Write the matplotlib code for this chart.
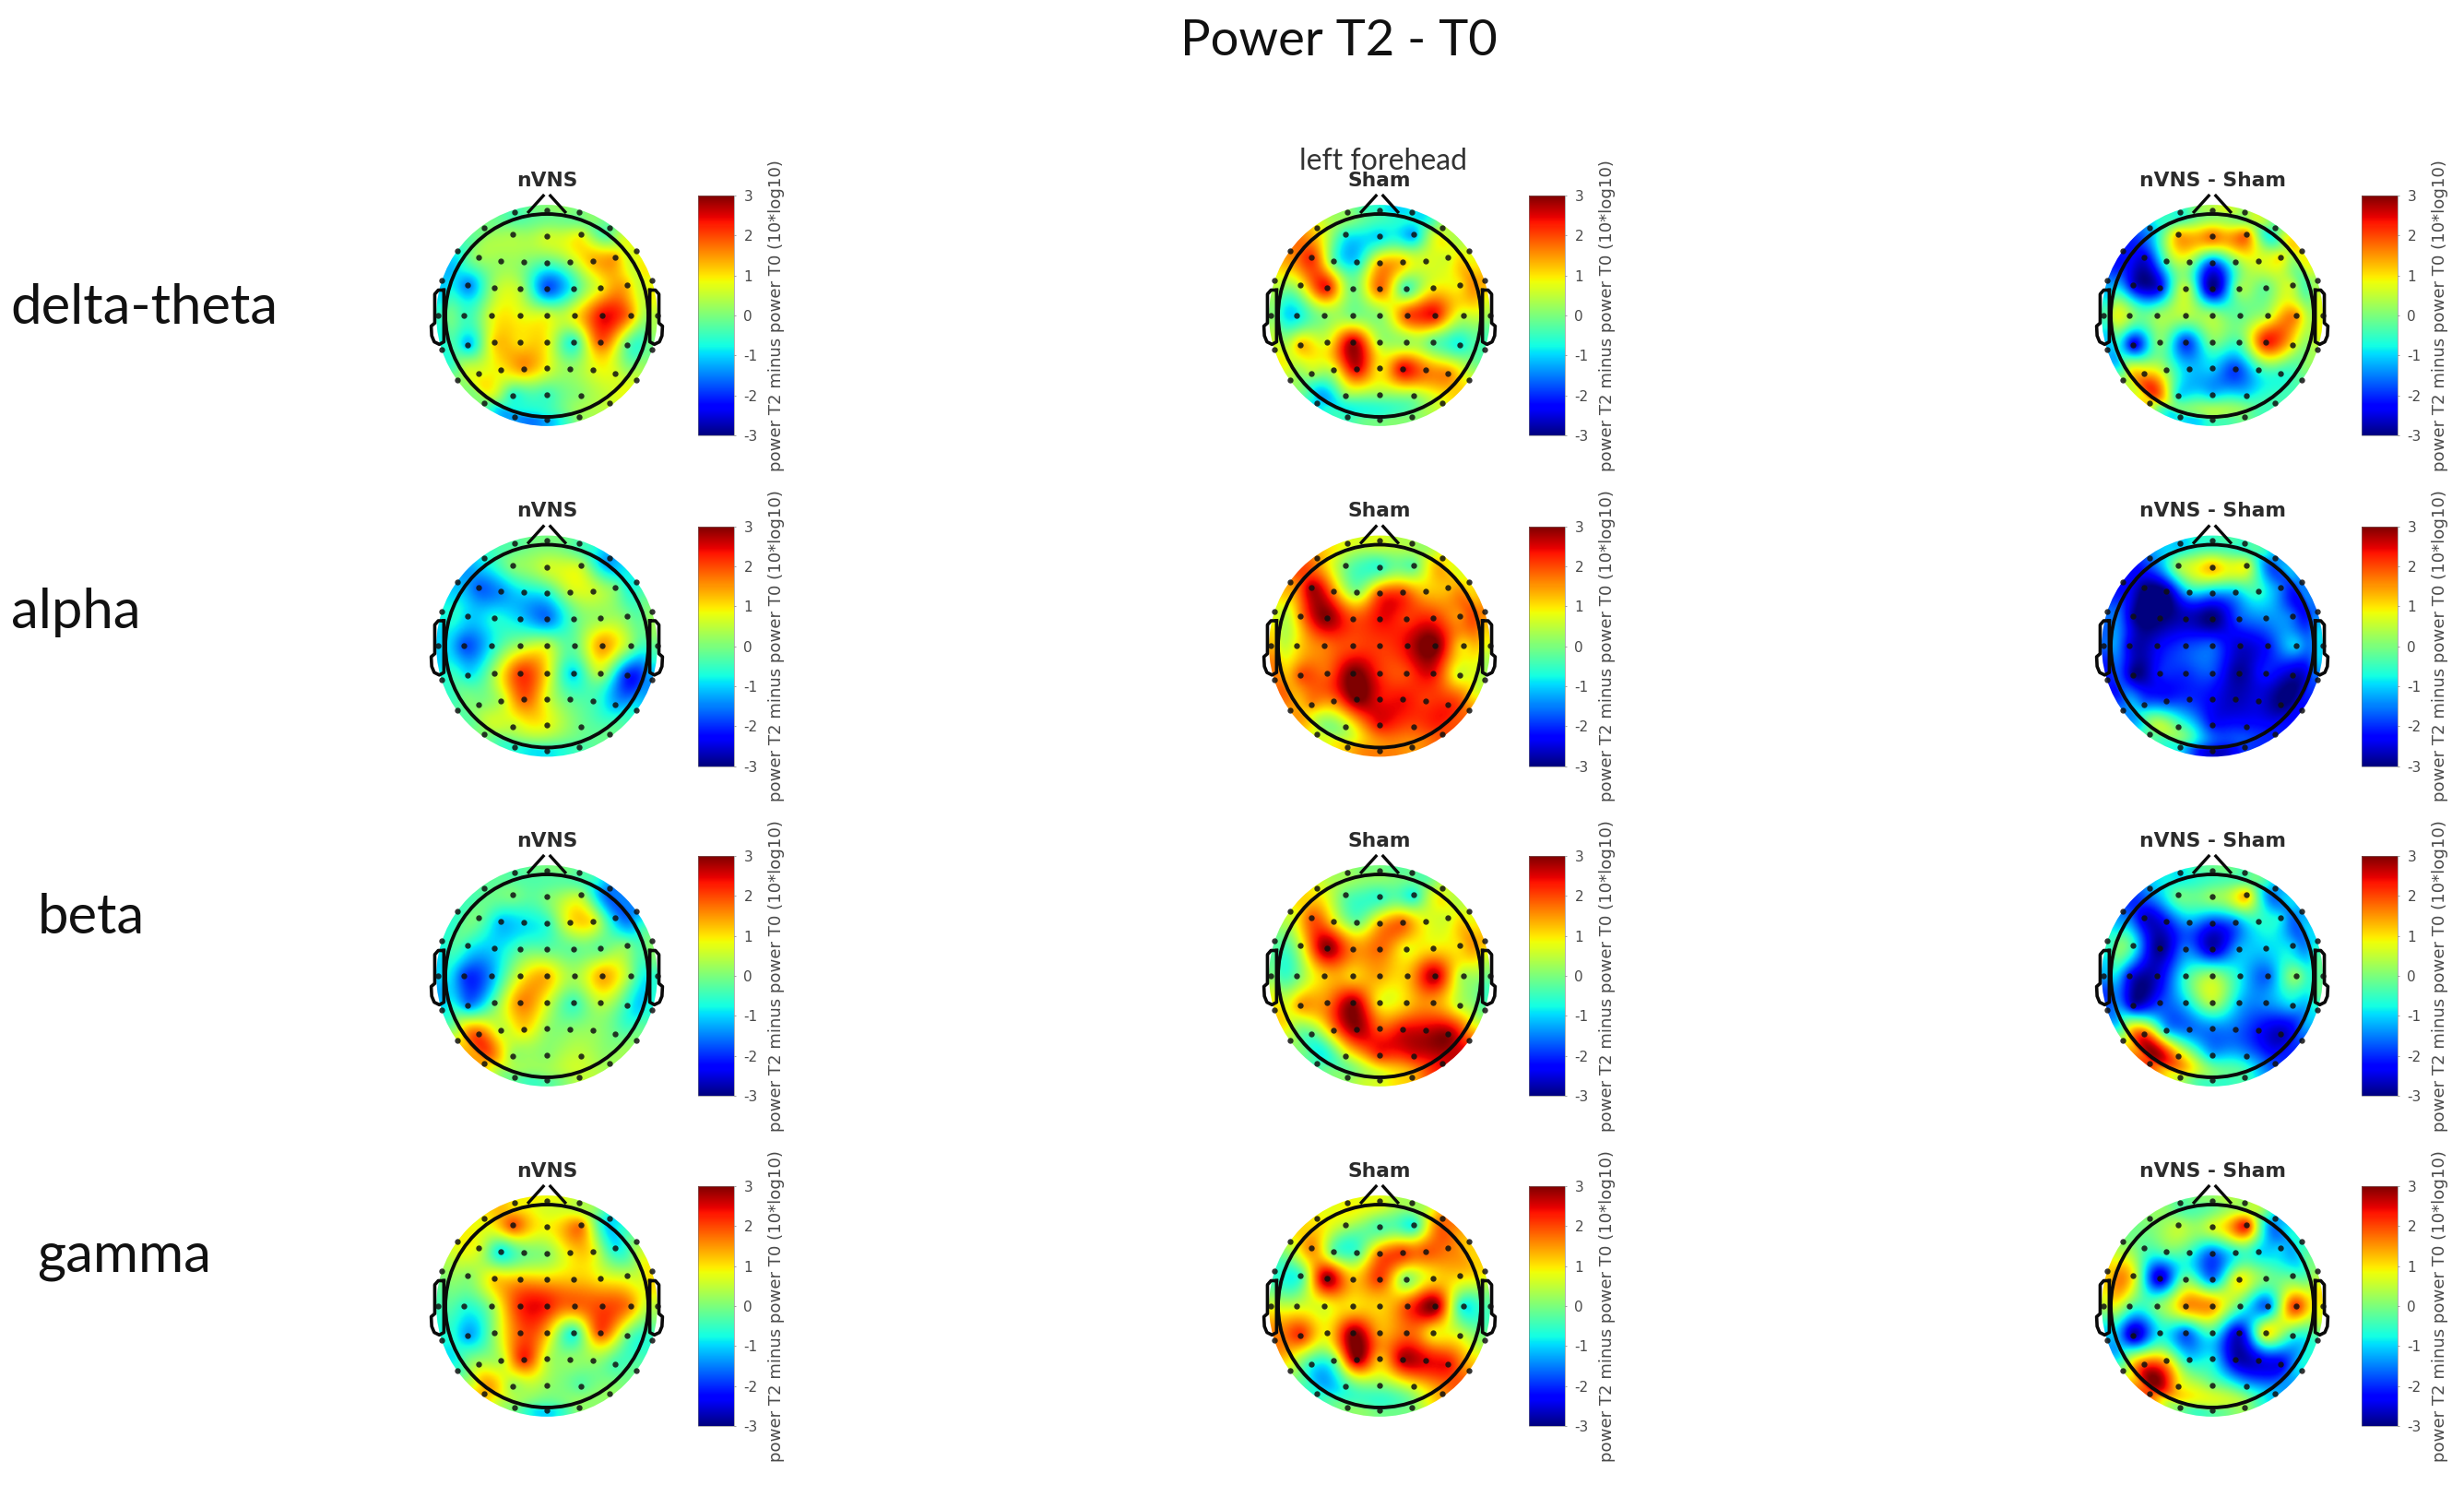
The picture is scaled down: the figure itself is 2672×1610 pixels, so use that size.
import numpy as np
import matplotlib
matplotlib.use("Agg")
import matplotlib.pyplot as plt
from matplotlib.patches import Circle

plt.rcParams["axes.unicode_minus"] = False
W, H = 2672, 1610
FIG_TITLE = "Power T2 - T0"
ANNOT = "left forehead"
BANDS = ["delta-theta", "alpha", "beta", "gamma"]
CONDITIONS = ["nVNS", "Sham", "nVNS - Sham"]
CBAR_LABEL = "power T2 minus power T0 (10*log10)"
CBAR_TICKS = [-3, -2, -1, 0, 1, 2, 3]

# electrode montage in head radii, row by row from the nose to the back
elec_x = [-0.318, 0.0, 0.318,
          -0.621, -0.333, 0.0, 0.333, 0.621,
          -0.879, -0.673, -0.455, -0.227, 0.0, 0.230, 0.455, 0.676, 0.879,
          -1.036, -0.779, -0.521, -0.261, 0.0, 0.261, 0.524, 0.788, 1.039,
          -1.076, -0.818, -0.545, -0.267, 0.0, 0.273, 0.545, 0.824, 1.091,
          -1.036, -0.779, -0.521, -0.261, 0.0, 0.261, 0.524, 0.788, 1.039,
          -0.879, -0.673, -0.455, -0.227, 0.0, 0.230, 0.455, 0.676, 0.879,
          -0.621, -0.333, 0.0, 0.333, 0.621,
          -0.318, 0.0, 0.318]
elec_y = [1.015, 1.039, 1.015,
          0.864, 0.797, 0.779, 0.797, 0.864,
          0.636, 0.576, 0.539, 0.530, 0.521, 0.530, 0.539, 0.576, 0.636,
          0.342, 0.297, 0.276, 0.264, 0.264, 0.264, 0.276, 0.297, 0.342,
          0.0, 0.0, 0.0, 0.0, 0.0, 0.0, 0.0, 0.0, 0.0,
          -0.333, -0.288, -0.264, -0.264, -0.264, -0.264, -0.264, -0.288, -0.333,
          -0.636, -0.576, -0.539, -0.524, -0.521, -0.524, -0.539, -0.576, -0.636,
          -0.864, -0.791, -0.779, -0.791, -0.864,
          -1.0, -1.03, -1.0]

delta_theta_nvns = [-1, -0.3, -1,
    0, 0.3, 0.6, 0.8, -1.6,
    -0.8, 0.2, 0.2, 0.1, -0.3, 0.3, 1.3, 1.4, -0.3,
    -0.5, -1.5, 0.3, 0.4, -1.8, -0.6, 0.8, 1.3, 0.6,
    0, -0.5, 0.7, 0.8, 0.7, 0.9, 2.4, 1.6, 0,
    0, -1.2, 1.1, 1.0, 0.9, -0.7, 1.9, -0.1, 0,
    0.7, 0.7, 0.9, 1.5, 0.8, 0.2, 0.7, 0.7, 0.5,
    0.8, -0.7, -0.5, 0.1, 0.4,
    -0.3, -0.8, 0.8]
delta_theta_sham = [1.0, 0.0, 0.3,
    1.1, -0.7, -1.0, -1.3, 1.6,
    1.0, 2.2, -0.2, -0.9, 1.3, 1.2, 0.7, 0.6, 1.1,
    0.8, 0.7, 2.4, -0.1, 1.8, -0.5, 0.9, 0.9, 2.0,
    0.3, -0.9, 0.1, 0, 0.1, 2.0, 2.4, 0.5, 0.3,
    0.2, 1.3, 0.7, 2.8, 0.4, 0.2, -0.2, -0.8, 0,
    -0.4, 0.4, 0.6, 2.6, 0.9, 2.5, 1.7, 1.6, 0.5,
    -2.0, 0.1, 0.2, 0.2, 0.4,
    -1.5, -0.6, -0.2]
delta_theta_diff = [-2.5, -0.6, -2.0,
    -1.5, 1.3, 1.8, 1.8, -2.5,
    -1.3, -2.5, -0.3, 0.3, -1.8, 0, 0.7, 1.0, 0,
    -1, -2.5, -2.4, 0.6, -3, 0.2, -0.2, 0.6, -0.5,
    0, 0.3, 0.2, 0.4, 0.3, -0.2, 0.4, 1.6, 0.3,
    0, -2.5, 0.1, -2.0, 0, -0.4, 2.3, 1.0, 0,
    1.2, 1.2, 0.2, -1.1, -1.0, -1.9, -0.6, -0.6, -0.2,
    2.6, -0.9, -1.1, -0.9, -0.1,
    0.9, 1.0, 1.0]
alpha_nvns = [-0.8, -0.3, -1.0,
    -0.5, 0.1, 0.6, 0.5, -2.4,
    -0.8, -1.7, -1.4, -0.9, -0.7, 0.5, 0.6, 0, -1.6,
    -0.4, -1.0, -0.7, -1.0, -1.6, -0.3, 0.2, 0, 0.3,
    -0.5, -1.8, -0.8, 0.3, 0.6, -0.2, 1.5, 0.2, -0.2,
    -0.2, -0.9, 0.3, 2.1, 1.0, -1.0, 0.5, -2.0, -1.0,
    0, 0, 0.4, 1.9, 0.7, -0.2, -0.4, -1.2, -0.3,
    0.7, 0.5, 0.8, -0.1, 0,
    -0.4, -0.8, -0.3]
alpha_sham = [1.1, 1.5, 1.2,
    1.3, 0, -0.6, -0.3, 2.0,
    0.5, 2.8, 1.6, 0.1, 1.9, 2.0, 1.2, 1.2, 1.1,
    0.2, 1.6, 3.0, 2.0, 2.4, 2.1, 2.2, 1.5, 2.2,
    1.3, 1.0, 1.7, 2.0, 2.1, 2.5, 3.2, 1.0, 1.0,
    1.3, 2.0, 1.8, 3.1, 2.2, 2.0, 2.5, 0.6, 0.6,
    0.7, 1.6, 1.7, 3.1, 2.4, 2.4, 2.1, 2.2, 2.0,
    0, 0.5, 2.4, 2.0, 2.2,
    1.0, 1.2, 1.2]
alpha_diff = [-2.4, -1.5, -2.2,
    -1.5, 0.3, 1.3, 0.8, -2.8,
    -1.8, -3, -3, -1.0, -1.3, -1.1, -0.5, -1.5, -2,
    -0.9, -2.9, -3.1, -2.7, -3.1, -1.8, -1.4, -1.6, -2,
    -1, -2.5, -2.4, -1.9, -1.7, -2.6, -2.2, -1.0, -1,
    -1.5, -3, -2.1, -2.0, -1.8, -2.9, -2.1, -2.7, -1.5,
    -0.5, -1.6, -2.0, -2.0, -2.3, -2.7, -2.5, -3, -2,
    0.9, -0.3, -2.2, -2.2, -2,
    0.3, -2.2, -1.2]
beta_nvns = [-0.8, -0.3, -1.0,
    -0.2, 0, 0, 0.4, -2.5,
    -0.7, -0.1, -1.1, -0.9, -0.6, 0.9, 0.9, -1.2, -2.0,
    -0.5, -0.7, -1.0, -0.3, -0.2, -0.2, -0.2, 0.1, 0.2,
    -0.3, -1.9, -1.3, 0.7, 1.3, 0.3, 1.4, 0.2, -1,
    -0.3, -1.5, -0.2, 1.6, 0.7, -0.5, 0.5, -0.5, -0.8,
    0.8, 1.9, 0.5, 1.1, 0.2, 0.1, 0.2, -0.1, 0.2,
    2.1, 0.2, 0.1, 0.5, 0,
    0.5, 0, 0.8]
beta_sham = [0.8, 0.7, 0.9,
    0.9, -0.2, -0.6, -0.8, 1.7,
    0, 1.9, 1.0, -0.1, 1.3, 1.8, 0.8, 0.6, 1.0,
    -0.3, 0.6, 3.0, 1.6, 1.8, 0.8, 1.0, 1.0, 1.9,
    0, -0.1, 1.2, 1.1, 1.4, 1.2, 2.8, 0.3, 0,
    0.8, 1.5, 1.6, 2.9, 0.9, 1.1, 1.5, 0.5, -0.3,
    0.2, -0.2, 1.5, 2.9, 1.9, 2.4, 2.6, 2.9, 1.9,
    -1, 0.5, 2.2, 2.4, 2.3,
    -0.6, -0.1, 0.5]
beta_diff = [-2.0, -0.7, -2.4,
    -1.0, -0.1, 0.2, 1.3, -3,
    -1.2, -2.6, -2.2, -1.3, -2.0, -1.5, -0.6, -0.8, -2.3,
    -0.6, -0.6, -3, -1.5, -2.7, -1.2, -1.0, -1.0, -1,
    -0.5, -2.3, -2.6, -0.6, 0.3, -0.8, -1.7, 0.2, -0.7,
    -1, -2.7, -1.9, -1.0, 0.4, -1.1, -1.4, -1.0, -1,
    0.5, 2.0, -1.0, -1.6, -1.5, -1.6, -2.2, -2.7, -1.5,
    3, 1.3, -1.2, -1.3, -2,
    1.2, 0.3, 0.5]
gamma_nvns = [-0.2, 0.6, -0.7,
    0.6, 2.0, 0.9, 1.7, -2.1,
    0.9, 0.7, -0.9, -0.1, 0.1, 1.0, 0.9, -0.8, 0.6,
    0.3, 0.1, 1.1, 1.3, 1.2, 1.2, 0.9, 0.6, 1.2,
    -0.2, -0.6, 0.2, 2.2, 2.3, 1.8, 2.0, 1.6, 0,
    0, -1.3, 0.2, 1.9, 1.3, -0.7, 2.0, 0, -0.8,
    -0.8, 0.4, 0.4, 2.3, 0.5, 0.2, 0.2, -0.4, 0.3,
    2.5, 0.2, 0.2, -0.3, 0.5,
    0.8, -1.0, 1.0]
gamma_sham = [1.2, 1.6, 1.3,
    1.0, 0.4, -0.4, -0.8, 2.8,
    0.4, 1.6, -0.2, -0.4, 1.7, 2.1, 1.9, 1.7, 0.8,
    -0.4, -0.5, 3.0, 1.2, 2.1, 0.0, 1.0, 1.1, 1.4,
    0.8, 0.6, 0.7, 1.0, 1.1, 2.0, 3.1, -0.8, 0.2,
    1.2, 2.2, 0.9, 3.0, 1.4, 1.8, 0.9, 0.7, 0,
    0.5, -0.6, -0.2, 3.0, 1.2, 2.8, 2.5, 2.4, 1.0,
    -0.8, -0.5, 0.1, 0.8, 1.3,
    0, -0.5, -0.5]
gamma_diff = [-1.3, -0.6, -2.0,
    0.0, 0.5, 0.7, 2.4, -3,
    0.0, -0.3, -0.2, -0.5, -1.7, -0.7, -0.9, -1.0, -1,
    1.0, 0.9, -2.7, 0, -1.5, 1.0, 0, -0.2, 0,
    1.0, -0.2, 0, 1.5, 1.5, -0.3, -1.7, 2.2, 0,
    0, -2.9, -0.8, -1.7, -0.5, -2.6, 1.0, -0.5, -0.8,
    0.3, 1.9, 1.2, -0.9, -0.8, -2.7, -2.5, -2.4, 0.3,
    3, 1.0, 0, -1.0, -0.9,
    0.8, 0.4, 1.3]

PANELS = [[delta_theta_nvns, delta_theta_sham, delta_theta_diff],
          [alpha_nvns, alpha_sham, alpha_diff],
          [beta_nvns, beta_sham, beta_diff],
          [gamma_nvns, gamma_sham, gamma_diff]]

# layout, in reference pixels
HEAD_R = 110.0
COL_X = [593, 1496, 2399]
ROW_Y = [342, 700.5, 1058, 1416]
CBAR_OFF = [164, 162, 162]
SPAN = 1.45
grid = np.linspace(-1.2, 1.2, 320)
GX, GY = np.meshgrid(grid, grid)
ex = np.array(elec_x)
ey = np.array(elec_y)


def green(d):
    out = np.zeros_like(d)
    m = d > 0
    out[m] = d[m] ** 2 * (np.log(d[m]) - 1)
    return out


dist = np.hypot(ex[:, None] - ex[None, :], ey[:, None] - ey[None, :])
rim = np.hypot(ex, ey) > 0.95
G = green(dist) + np.diag(np.where(rim, 0.06, 0.002))
# colours stay flat past the head line, as the rim of the reference does
RR = np.hypot(GX, GY)
scale = np.minimum(1.0, 1.04 / np.maximum(RR, 1e-6))
dgrid = np.hypot((GX * scale)[..., None] - ex, (GY * scale)[..., None] - ey)
Ggrid = green(dgrid)


def px_axes(x0, y0, x1, y1):
    return fig.add_axes([x0 / W, 1 - y1 / H, (x1 - x0) / W, (y1 - y0) / H])


fig = plt.figure(figsize=(W / 100, H / 100), dpi=100, facecolor="white")
DARK = "#2b2b2b"

ear_x = np.array([1.015, 1.07, 1.105, 1.105, 1.14, 1.135, 1.11, 1.06, 1.015, 1.015])
ear_y = np.array([0.25, 0.25, 0.21, -0.075, -0.105, -0.2, -0.26, -0.285, -0.26, 0.25])
nose_x = np.array([0.18, 0.035])
nose_y = np.array([1.02, 1.18])

for r, cy in enumerate(ROW_Y):
    for c, cx in enumerate(COL_X):
        ax = px_axes(cx - SPAN * HEAD_R, cy - SPAN * HEAD_R, cx + SPAN * HEAD_R, cy + SPAN * HEAD_R)
        ax.set_xlim(-SPAN, SPAN)
        ax.set_ylim(-SPAN, SPAN)
        ax.axis("off")
        vals = np.array(PANELS[r][c], dtype=float)
        w = np.linalg.solve(G, vals)
        Z = Ggrid @ w
        im = ax.imshow(Z, extent=[-1.2, 1.2, -1.2, 1.2], origin="lower", cmap="jet",
                       vmin=-3, vmax=3, interpolation="bilinear", zorder=1)
        im.set_clip_path(Circle((0, 0), 1.09, transform=ax.transData))
        ax.add_patch(Circle((0, 0), 1.0, fill=False, ec="#0a0a0a", lw=2.8, zorder=3))
        for sgn in (-1, 1):
            ax.plot(sgn * ear_x, ear_y, color="#0a0a0a", lw=2.6, zorder=3)
            ax.plot(sgn * nose_x, nose_y, color="#0a0a0a", lw=2.4, zorder=3)
        ax.scatter(ex, ey, s=21, c="#101010", lw=0, zorder=4, alpha=0.85)
        ax.text(0, 1.33, CONDITIONS[c], ha="center", va="center", fontsize=15.7,
                fontweight="bold", color=DARK, zorder=5)

        bx = cx + CBAR_OFF[c]
        cax = px_axes(bx, cy - 130, bx + 39, cy + 130)
        cb = fig.colorbar(im, cax=cax, ticks=CBAR_TICKS)
        cb.outline.set_linewidth(0.4)
        cb.outline.set_edgecolor("#777777")
        cb.ax.tick_params(length=1.5, width=0.5, color="#777777", labelsize=11,
                          labelcolor="#4a4a4a", pad=6)
        fig.text((bx + 85) / W, 1 - cy / H, CBAR_LABEL, rotation=90, ha="center",
                 va="center", fontsize=13.1, color="#4a4a4a")

TFONT = ["Lato", "DejaVu Sans"]
fig.text(1452 / W, 1 - 44 / H, FIG_TITLE, ha="center", va="center", fontsize=39.2,
         family=TFONT, color="#111111")
fig.text(1500 / W, 1 - 175 / H, ANNOT, ha="center", va="center", fontsize=23,
         family=TFONT, color="#333333")
LABEL_X = [11, 12, 41, 40]
LABEL_Y = [334, 664, 995, 1362]
for lab, lx, ly in zip(BANDS, LABEL_X, LABEL_Y):
    fig.text(lx / W, 1 - ly / H, lab, ha="left", va="center", fontsize=43,
             family=TFONT, color="#111111")

fig.savefig("out.png", dpi=100, facecolor="white")
